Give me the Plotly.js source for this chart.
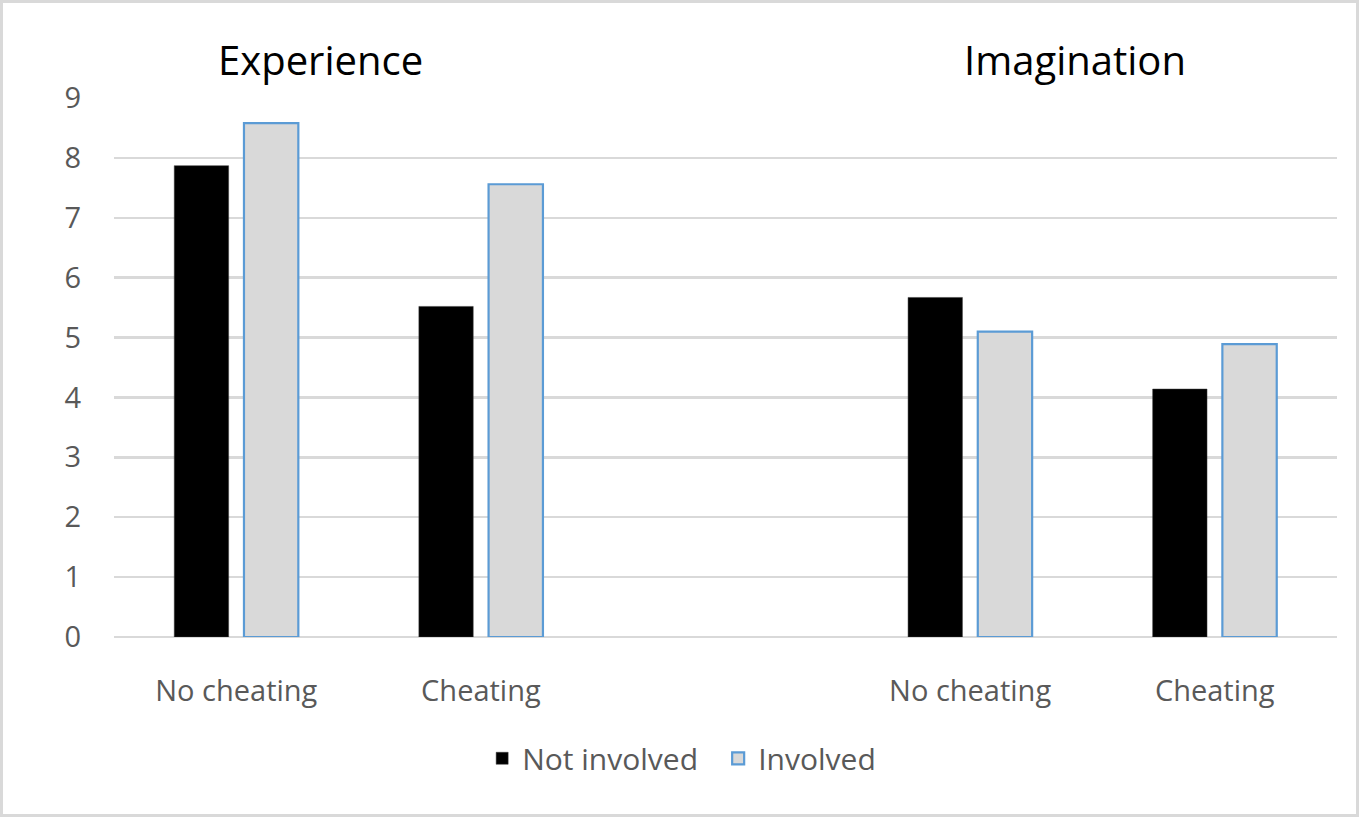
<!DOCTYPE html>
<html>
<head>
<meta charset="utf-8">
<script src="https://cdn.plot.ly/plotly-3.0.1.min.js"></script>
<style>
  body { margin: 0; background: #fff; }
  #wrap { position: relative; width: 1359px; height: 817px; }
  #chart { width: 1359px; height: 817px; }
  #frame {
    position: absolute; left: 0; top: 0; width: 1359px; height: 817px;
    box-sizing: border-box; border: 3px solid #d9d9d9; pointer-events: none;
  }
</style>
</head>
<body>
<div id="wrap">
  <div id="chart"></div>
  <div id="frame"></div>
</div>
<script>
// values
const categories = ["No cheating", "Cheating", "", "No cheating", "Cheating"];
const notInvolved = [7.87, 5.52, null, 5.67, 4.14];
const involved = [8.58, 7.56, null, 5.10, 4.89];
const panelTitles = ["Experience", "Imagination"];
const panelTitleX = [0.169, 0.786];

const xPos = categories.map((_, i) => i);
const fontFamily = "Open Sans, Noto Sans, sans-serif";

const traces = [
  {
    type: "bar",
    name: "Not involved",
    x: xPos,
    y: notInvolved,
    marker: {color: "#000000", line: {color: "#3a3a3a", width: 0.5}}
  },
  {
    type: "bar",
    name: "Involved",
    x: xPos,
    y: involved,
    marker: {color: "#d9d9d9", line: {color: "#5b9bd5", width: 2.2}}
  }
];

const layout = {
  width: 1359,
  height: 817,
  margin: {l: 114, r: 22, t: 98, b: 180},
  paper_bgcolor: "#ffffff",
  plot_bgcolor: "#ffffff",
  font: {family: fontFamily, color: "#595959", size: 28},
  barmode: "group",
  bargap: 0.43,
  bargroupgap: 0.22,
  showlegend: true,
  legend: {
    orientation: "h",
    x: 0.494,
    xanchor: "center",
    y: -0.225,
    yanchor: "middle",
    entrywidth: 191,
    font: {size: 30, color: "#595959"},
    traceorder: "normal"
  },
  xaxis: {
    range: [-0.5, 4.5],
    tickvals: xPos,
    ticktext: categories,
    showgrid: false,
    zeroline: false,
    showline: false,
    ticks: "",
    ticklabelstandoff: 34,
    tickfont: {size: 29, color: "#595959"},
    fixedrange: true
  },
  yaxis: {
    range: [0, 9],
    dtick: 1,
    showgrid: true,
    gridcolor: "#d9d9d9",
    gridwidth: 2.5,
    zeroline: true,
    zerolinecolor: "#d9d9d9",
    zerolinewidth: 2.5,
    showline: false,
    ticks: "",
    ticklabelstandoff: 32,
    tickfont: {size: 29, color: "#595959"},
    fixedrange: true
  },
  annotations: panelTitles.map((t, i) => ({
    text: t,
    xref: "paper",
    yref: "paper",
    x: panelTitleX[i],
    y: 1.072,
    xanchor: "center",
    yanchor: "middle",
    showarrow: false,
    font: {family: fontFamily, size: 40, color: "#000000"}
  }))
};

Plotly.newPlot("chart", traces, layout, {displayModeBar: false, staticPlot: true});
</script>
</body>
</html>
